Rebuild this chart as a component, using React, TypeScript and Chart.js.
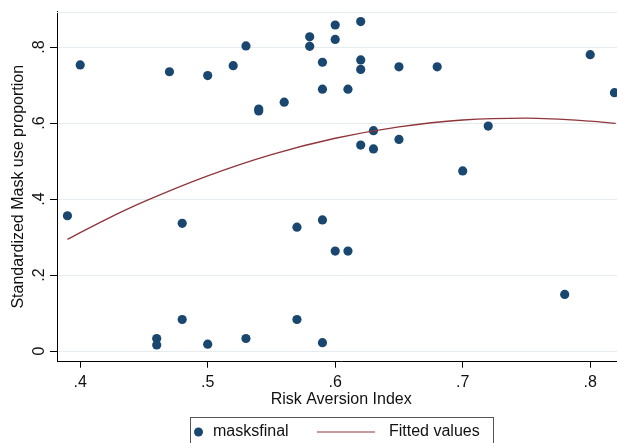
import React, { useEffect, useRef } from 'react';
import { Chart, registerables } from 'chart.js';

Chart.register(...registerables);

// Scatter data (Risk Aversion Index, Standardized Mask use proportion)
const riskAversion = [
  0.39, 0.40, 0.46, 0.46, 0.47, 0.48, 0.48, 0.50, 0.50, 0.52,
  0.53, 0.53, 0.54, 0.54, 0.56, 0.57, 0.57, 0.58, 0.58, 0.59,
  0.59, 0.59, 0.59, 0.60, 0.60, 0.60, 0.61, 0.61, 0.62, 0.62,
  0.62, 0.62, 0.63, 0.63, 0.65, 0.65, 0.68, 0.70, 0.72, 0.78,
  0.80, 0.819,
];
const maskUse = [
  0.356, 0.753, 0.033, 0.016, 0.735, 0.336, 0.083, 0.725, 0.018, 0.751,
  0.803, 0.033, 0.637, 0.632, 0.655, 0.326, 0.083, 0.827, 0.802, 0.760,
  0.689, 0.345, 0.022, 0.858, 0.820, 0.263, 0.689, 0.263, 0.867, 0.766,
  0.741, 0.542, 0.580, 0.532, 0.748, 0.557, 0.748, 0.474, 0.592, 0.149,
  0.780, 0.680,
];

// Fitted (quadratic) curve
const fitX = [0.39, 0.42, 0.45, 0.50, 0.55, 0.60, 0.65, 0.70, 0.75, 0.80, 0.82];
const fitY = [0.294, 0.346, 0.393, 0.461, 0.517, 0.560, 0.590, 0.608, 0.613, 0.605, 0.599];

const seriesLabels = ['masksfinal', 'Fitted values'];
const xTicks = [0.4, 0.5, 0.6, 0.7, 0.8];
const xTickLabels = ['.4', '.5', '.6', '.7', '.8'];
const yTicks = [0, 0.2, 0.4, 0.6, 0.8];
const yTickLabels = ['0', '.2', '.4', '.6', '.8'];
const xTitle = 'Risk Aversion Index';
const yTitle = 'Standardized Mask use proportion';

const FONT = "'Liberation Sans', Arial, Helvetica, sans-serif";
const NAVY = '#1a476f';
const MAROON = '#90353b';
const GRID = '#e4ecee';
const TEXT = '#111111';

const VIEW_W = 617;
const VIEW_H = 443;
const CANVAS_W = 630; // the plot region runs past the right edge of the view (cropped figure)

const frameAndLegend = {
  id: 'frameAndLegend',
  beforeDatasetsDraw(chart: any) {
    const { ctx, chartArea } = chart;
    ctx.save();
    ctx.strokeStyle = GRID;
    ctx.lineWidth = 1;
    ctx.beginPath();
    ctx.moveTo(chartArea.left, Math.round(chartArea.top) + 0.5);
    ctx.lineTo(chartArea.right, Math.round(chartArea.top) + 0.5);
    ctx.stroke();
    ctx.restore();
  },
  afterDraw(chart: any) {
    const { ctx } = chart;
    const ds = chart.data.datasets;
    ctx.save();
    const boxLeft = 190.5;
    const boxTop = 417.5;
    const boxW = 303;
    const boxH = 40;
    ctx.strokeStyle = '#555555';
    ctx.lineWidth = 1;
    ctx.strokeRect(boxLeft, boxTop, boxW, boxH);
    const cy = 432;
    // marker item
    ctx.fillStyle = ds[0].backgroundColor;
    ctx.beginPath();
    ctx.arc(198.5, cy, 4.5, 0, Math.PI * 2);
    ctx.fill();
    ctx.font = `16px ${FONT}`;
    ctx.fillStyle = TEXT;
    ctx.textBaseline = 'middle';
    ctx.textAlign = 'left';
    ctx.fillText(ds[0].label, 213, cy);
    // line item
    ctx.strokeStyle = ds[1].borderColor;
    ctx.lineWidth = 1.2;
    ctx.beginPath();
    ctx.moveTo(317, cy);
    ctx.lineTo(375, cy);
    ctx.stroke();
    ctx.fillText(ds[1].label, 389, cy);
    ctx.restore();
  },
};

export default function App() {
  const ref = useRef<HTMLCanvasElement>(null);

  useEffect(() => {
    document.body.style.margin = '0';
    const canvas = ref.current;
    if (!canvas) return;
    const chart = new Chart(canvas, {
      type: 'scatter',
      data: {
        datasets: [
          {
            label: seriesLabels[0],
            data: riskAversion.map((x, i) => ({ x, y: maskUse[i] })),
            backgroundColor: NAVY,
            borderColor: NAVY,
            pointRadius: 4.6,
            pointBorderWidth: 0,
            showLine: false,
            order: 2,
          },
          {
            type: 'line',
            label: seriesLabels[1],
            data: fitX.map((x, i) => ({ x, y: fitY[i] })),
            borderColor: MAROON,
            backgroundColor: MAROON,
            borderWidth: 1.3,
            pointRadius: 0,
            showLine: true,
            fill: false,
            cubicInterpolationMode: 'monotone',
            order: 1,
          } as any,
        ],
      },
      options: {
        responsive: false,
        animation: false,
        devicePixelRatio: 1,
        layout: { padding: { top: 11.7, right: 0, bottom: 33, left: 0 } },
        plugins: {
          legend: { display: false },
          tooltip: { enabled: false },
        },
        scales: {
          x: {
            type: 'linear',
            min: 0.3818,
            max: 0.8276,
            afterBuildTicks: (scale: any) => {
              scale.ticks = xTicks.map((v) => ({ value: v }));
            },
            afterFit: (scale: any) => {
              scale.height = 48.3;
              scale.paddingLeft = 0;
              scale.paddingRight = 0;
            },
            grid: {
              drawOnChartArea: false,
              drawTicks: true,
              tickLength: 6,
              tickColor: '#000000',
              tickWidth: 1,
            },
            border: { display: true, color: '#000000', width: 1 },
            ticks: {
              autoSkip: false,
              maxRotation: 0,
              minRotation: 0,
              padding: 5,
              color: TEXT,
              font: { family: FONT, size: 16 },
              callback: (v: any) => {
                const i = xTicks.findIndex((t) => Math.abs(t - Number(v)) < 1e-9);
                return i >= 0 ? xTickLabels[i] : '';
              },
            },
            title: {
              display: true,
              text: xTitle,
              color: TEXT,
              font: { family: FONT, size: 16 },
              padding: { top: 0, bottom: 1 },
            },
          },
          y: {
            type: 'linear',
            min: -0.028,
            max: 0.893,
            afterBuildTicks: (scale: any) => {
              scale.ticks = yTicks.map((v) => ({ value: v }));
            },
            afterFit: (scale: any) => {
              scale.width = 57;
              scale.paddingTop = 0;
              scale.paddingBottom = 0;
            },
            grid: {
              drawOnChartArea: true,
              color: GRID,
              lineWidth: 1,
              drawTicks: true,
              tickLength: 7,
              tickColor: '#000000',
              tickWidth: 1,
            },
            border: { display: true, color: '#000000', width: 1 },
            ticks: {
              autoSkip: false,
              minRotation: 90,
              maxRotation: 90,
              crossAlign: 'center',
              padding: 4,
              color: TEXT,
              font: { family: FONT, size: 16 },
              callback: (v: any) => {
                const i = yTicks.findIndex((t) => Math.abs(t - Number(v)) < 1e-9);
                return i >= 0 ? yTickLabels[i] : '';
              },
            },
            title: {
              display: true,
              text: yTitle,
              color: TEXT,
              font: { family: FONT, size: 16 },
              padding: { top: 9.4, bottom: 0 },
            },
          },
        },
      } as any,
      plugins: [frameAndLegend],
    });
    return () => chart.destroy();
  }, []);

  return (
    <div style={{ position: 'fixed', left: 0, top: 0, width: VIEW_W, height: VIEW_H, overflow: 'hidden', background: '#ffffff' }}>
      <canvas ref={ref} width={CANVAS_W} height={VIEW_H} style={{ display: 'block', width: CANVAS_W, height: VIEW_H }} />
    </div>
  );
}
